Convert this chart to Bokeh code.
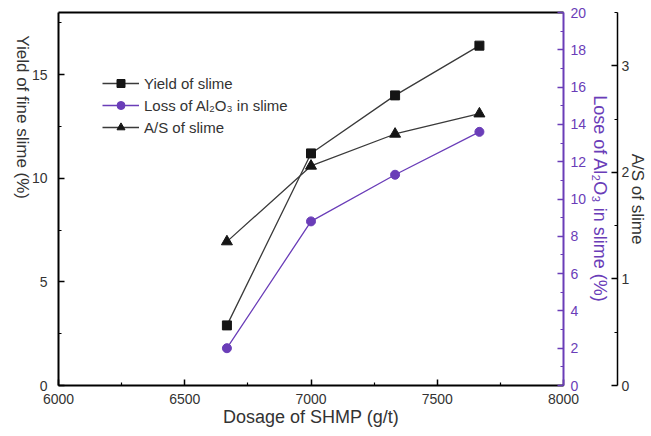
import math

from bokeh.embed import file_html
from bokeh.models import FixedTicker, LinearAxis, Range1d
from bokeh.plotting import figure
from bokeh.resources import INLINE

# Dosage of SHMP (g/t) and the three measured responses
dosage = [6667, 7000, 7333, 7667]
yield_slime = [2.9, 11.2, 14.0, 16.4]        # yield of fine slime, %
loss_al2o3 = [2.0, 8.8, 11.3, 13.6]          # loss of Al2O3 in slime, %
as_ratio = [1.35, 2.06, 2.36, 2.55]          # A/S of slime

# Tick positions for each axis
x_ticks = [6000, 6500, 7000, 7500, 8000]
x_minor = [6250, 6750, 7250, 7750]
yield_ticks = [0, 5, 10, 15]
yield_minor = [2.5, 7.5, 12.5, 17.5]
loss_ticks = [0, 2, 4, 6, 8, 10, 12, 14, 16, 18, 20]
loss_minor = [1, 3, 5, 7, 9, 11, 13, 15, 17, 19]
as_ticks = [0, 1, 2, 3]
as_minor = [0.5, 1.5, 2.5, 3.5]

FONT = "Liberation Sans"
PURPLE = "#6a3db8"
INK = "#333333"

p = figure(
    width=651, height=436,
    x_range=Range1d(6000, 8000), y_range=Range1d(0, 18),
    x_axis_type=None, y_axis_type=None,
    output_backend="svg", toolbar_location=None,
    min_border_left=57, min_border_right=88,
    min_border_top=12, min_border_bottom=51,
)
p.extra_y_ranges = {"loss": Range1d(0, 20), "as": Range1d(0, 3.5)}
p.outline_line_color = None
p.background_fill_color = "white"
p.border_fill_color = "white"


def style_axis(ax, color, text_color, width=2):
    ax.axis_line_color = color
    ax.axis_line_width = width
    ax.major_tick_line_color = color
    ax.minor_tick_line_color = color
    ax.major_tick_line_width = 1.5
    ax.minor_tick_line_width = 1.2
    ax.major_tick_in = 6
    ax.major_tick_out = 0
    ax.minor_tick_in = 3
    ax.minor_tick_out = 0
    ax.major_label_text_font = FONT
    ax.major_label_text_font_size = "14px"
    ax.major_label_text_color = text_color
    ax.axis_label_text_font = FONT
    ax.axis_label_text_font_size = "18px"
    ax.axis_label_text_font_style = "normal"
    ax.axis_label_text_color = text_color


left = LinearAxis(ticker=FixedTicker(ticks=yield_ticks, minor_ticks=yield_minor))
style_axis(left, "black", INK)
left.major_label_standoff = 11
left.axis_label = "Yield of fine slime (%)"
left.axis_label_standoff = 6
left.axis_label_text_font_size = "17px"
if "axis_label_orientation" in LinearAxis.properties():
    # read from top to bottom
    left.axis_label_orientation = -math.pi / 2
p.add_layout(left, "left")

bottom = LinearAxis(ticker=FixedTicker(ticks=x_ticks, minor_ticks=x_minor))
style_axis(bottom, "black", INK)
bottom.major_label_standoff = 8
bottom.axis_label = "Dosage of SHMP (g/t)"
bottom.axis_label_standoff = 0
p.add_layout(bottom, "below")

# plain top border
top = LinearAxis(ticker=FixedTicker(ticks=[]))
style_axis(top, "black", INK)
top.major_label_text_font_size = "0px"
top.major_label_standoff = 0
p.add_layout(top, "above")

loss_axis = LinearAxis(y_range_name="loss",
                       ticker=FixedTicker(ticks=loss_ticks, minor_ticks=loss_minor))
style_axis(loss_axis, PURPLE, PURPLE)
loss_axis.major_label_standoff = 7
loss_axis.axis_label = "Lose of Al\u2082O\u2083 in slime (%)"
loss_axis.axis_label_standoff = 1
p.add_layout(loss_axis, "right")

# narrow empty gap between the two right-hand axes
gap = LinearAxis(y_range_name="loss", ticker=FixedTicker(ticks=[]))
gap.axis_line_color = None
gap.major_tick_out = 0
gap.major_tick_in = 0
gap.minor_tick_out = 0
gap.minor_tick_in = 0
gap.major_label_standoff = 0
gap.major_label_text_font_size = "0px"
gap.axis_label = " "
gap.axis_label_text_font_size = "1px"
gap.axis_label_standoff = 0
p.add_layout(gap, "right")

as_axis = LinearAxis(y_range_name="as",
                     ticker=FixedTicker(ticks=as_ticks, minor_ticks=as_minor))
style_axis(as_axis, "black", INK, width=1.5)
as_axis.major_label_standoff = 4
as_axis.axis_label = "A/S of slime"
as_axis.axis_label_standoff = -4
as_axis.axis_label_text_font_size = "17px"
p.add_layout(as_axis, "right")

# series
p.line(dosage, yield_slime, line_color="#3a3a3a", line_width=1.3,
       legend_label="Yield of slime")
p.scatter(dosage, yield_slime, marker="square", size=9, color="#151515",
          legend_label="Yield of slime")

p.line(dosage, loss_al2o3, y_range_name="loss", line_color=PURPLE, line_width=1.3,
       legend_label="Loss of Al\u2082O\u2083 in slime")
p.scatter(dosage, loss_al2o3, y_range_name="loss", marker="circle", size=9,
          color=PURPLE, legend_label="Loss of Al\u2082O\u2083 in slime")

p.line(dosage, as_ratio, y_range_name="as", line_color="#3a3a3a", line_width=1.3,
       legend_label="A/S of slime")
p.scatter(dosage, as_ratio, y_range_name="as", marker="triangle", size=11,
          color="#151515", legend_label="A/S of slime")

lg = p.legend[0]
lg.location = (44, 248)
lg.border_line_color = None
lg.background_fill_alpha = 0
lg.padding = 0
lg.margin = 0
lg.spacing = 2
lg.label_standoff = 5
lg.glyph_width = 37
lg.glyph_height = 20
lg.label_height = 20
lg.label_text_font = FONT
lg.label_text_font_size = "15px"
lg.label_text_color = INK

open("out.html", "w").write(file_html(p, INLINE))
